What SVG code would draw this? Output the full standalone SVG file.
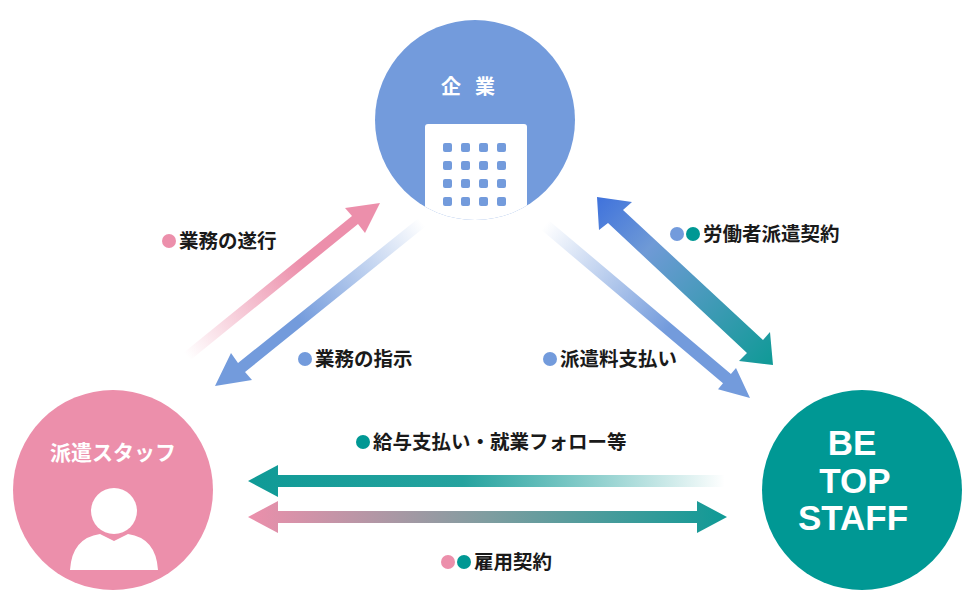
<svg xmlns="http://www.w3.org/2000/svg" width="971" height="600" viewBox="0 0 971 600">
<style>
.lbl{font-family:"Noto Sans CJK JP","Noto Sans",sans-serif;font-size:19.5px;font-weight:700;fill:#1a1a1a}
.title{font-family:"Noto Sans CJK JP","Noto Sans",sans-serif;font-weight:700;fill:#fff}
.logo{font-family:"Liberation Sans",Arial,sans-serif;font-weight:700;font-size:35px;fill:#fff}
</style>
<defs>
<clipPath id="kc"><circle cx="475" cy="120" r="100"/></clipPath>
<linearGradient id="gPink" gradientUnits="userSpaceOnUse" x1="190" y1="360" x2="380" y2="205"><stop offset="0" stop-color="#ec8fab" stop-opacity="0"/><stop offset="0.6" stop-color="#ec8fab"/><stop offset="1" stop-color="#ec8fab"/></linearGradient>
<linearGradient id="gBlue1" gradientUnits="userSpaceOnUse" x1="420" y1="220" x2="215" y2="385"><stop offset="0" stop-color="#739bdc" stop-opacity="0"/><stop offset="0.6" stop-color="#739bdc"/><stop offset="1" stop-color="#739bdc"/></linearGradient>
<linearGradient id="gBlue2" gradientUnits="userSpaceOnUse" x1="545" y1="225" x2="750" y2="398"><stop offset="0" stop-color="#739bdc" stop-opacity="0"/><stop offset="0.6" stop-color="#739bdc"/><stop offset="1" stop-color="#739bdc"/></linearGradient>
<linearGradient id="gBT" gradientUnits="userSpaceOnUse" x1="597" y1="197" x2="773" y2="365"><stop offset="0" stop-color="#3f72dc"/><stop offset="0.3" stop-color="#6f9ad6"/><stop offset="1" stop-color="#0f9a96"/></linearGradient>
<linearGradient id="gTeal" gradientUnits="userSpaceOnUse" x1="248" y1="0" x2="725" y2="0"><stop offset="0" stop-color="#0f9a96"/><stop offset="0.45" stop-color="#26a39f"/><stop offset="1" stop-color="#0f9a96" stop-opacity="0"/></linearGradient>
<linearGradient id="gPT" gradientUnits="userSpaceOnUse" x1="248" y1="0" x2="727" y2="0"><stop offset="0" stop-color="#ec8fab"/><stop offset="0.5" stop-color="#7f9da0"/><stop offset="1" stop-color="#0f9a96"/></linearGradient>
</defs>
<g id="kigyo">
<circle cx="475" cy="120" r="100" fill="#739bdc"/>
<text class="title" x="475" y="94" font-size="20" text-anchor="middle" letter-spacing="14">企業</text>
<g clip-path="url(#kc)">
<path d="M428 124h96a3 3 0 0 1 3 3v93h-102v-93a3 3 0 0 1 3-3z" fill="#fff"/>
<g fill="#739bdc">
<rect x="443" y="143" width="9" height="9" rx="2"/><rect x="461" y="143" width="9" height="9" rx="2"/><rect x="479" y="143" width="9" height="9" rx="2"/><rect x="497" y="143" width="9" height="9" rx="2"/>
<rect x="443" y="161" width="9" height="9" rx="2"/><rect x="461" y="161" width="9" height="9" rx="2"/><rect x="479" y="161" width="9" height="9" rx="2"/><rect x="497" y="161" width="9" height="9" rx="2"/>
<rect x="443" y="179" width="9" height="9" rx="2"/><rect x="461" y="179" width="9" height="9" rx="2"/><rect x="479" y="179" width="9" height="9" rx="2"/><rect x="497" y="179" width="9" height="9" rx="2"/>
<rect x="443" y="197" width="9" height="9" rx="2"/><rect x="461" y="197" width="9" height="9" rx="2"/><rect x="479" y="197" width="9" height="9" rx="2"/><rect x="497" y="197" width="9" height="9" rx="2"/>
</g>
</g>
</g>
<g id="haken">
<circle cx="113" cy="490" r="100" fill="#ec8fab"/>
<text class="title" x="113" y="460" font-size="21" text-anchor="middle">派遣スタッフ</text>
<circle cx="114" cy="511" r="23" fill="#fff"/>
<path d="M70 570 Q72 538 100 534 L114 541 L128 534 Q156 538 158 570 Z" fill="#fff"/>
</g>
<g id="betop">
<circle cx="862" cy="490" r="100" fill="#009894"/>
<text class="logo" x="852" y="455" text-anchor="middle">BE</text>
<text class="logo" x="855" y="493" text-anchor="middle">TOP</text>
<text class="logo" x="853" y="530" text-anchor="middle">STAFF</text>
</g>
<g id="connectors">
<polygon points="182,354 352,216 345,208 380,203 365,233 358,224 188,362" fill="url(#gPink)"/>
<polygon points="426,226 245,372 252,380 215,386 231,353 238,363 420,217" fill="url(#gBlue1)"/>
<polygon points="541,229.6 723,383.2 718,389.3 750,398 736,367.9 730.9,374 548.9,220.4" fill="url(#gBlue2)"/>
<polygon points="597,197 632,202 623,210 763,340 770,332 773,365 739,361 747,353 608,223 599,230" fill="url(#gBT)"/>
<polygon points="725,475 278,475 278,465 248,481 278,497 278,487 725,487" fill="url(#gTeal)"/>
<polygon points="248,517 278,501 278,511 697,511 697,501 727,517 697,533 697,523 278,523 278,533" fill="url(#gPT)"/>
</g>
<g id="labels">
<circle cx="169" cy="241" r="7" fill="#ec8fab"/><text class="lbl" x="179" y="248">業務の遂行</text>
<circle cx="305" cy="359" r="7" fill="#739bdc"/><text class="lbl" x="315" y="366">業務の指示</text>
<circle cx="677" cy="234" r="7" fill="#739bdc"/><circle cx="693" cy="234" r="7" fill="#009894"/><text class="lbl" x="703" y="241">労働者派遣契約</text>
<circle cx="550" cy="359" r="7" fill="#739bdc"/><text class="lbl" x="560" y="366">派遣料支払い</text>
<circle cx="363" cy="442" r="7" fill="#009894"/><text class="lbl" x="373" y="449">給与支払い・就業フォロー等</text>
<circle cx="448" cy="562" r="7" fill="#ec8fab"/><circle cx="464" cy="562" r="7" fill="#009894"/><text class="lbl" x="474" y="569">雇用契約</text>
</g>
</svg>
